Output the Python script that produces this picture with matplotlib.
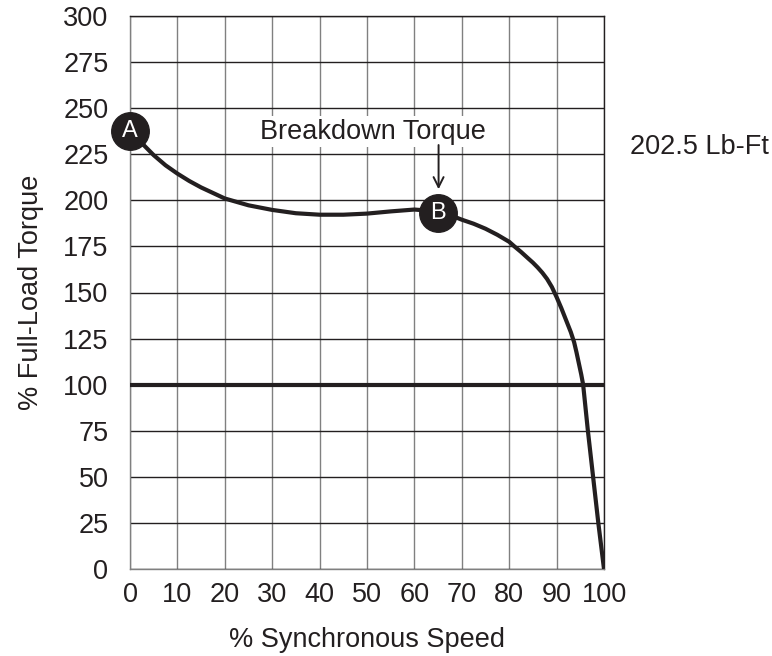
import matplotlib
matplotlib.use('Agg')
import matplotlib.pyplot as plt

plt.rcParams['font.family'] = ['Liberation Sans', 'DejaVu Sans']
FS = 19.5

# torque curve: % synchronous speed vs % full-load torque
speed = [0, 2.5, 5, 7.5, 10, 12.5, 15, 17.5, 20, 25, 30, 35, 40, 45, 50, 55, 60,
         62.5, 65, 67.5, 70, 72.5, 75, 77.5, 80, 81.1, 82.5, 84, 85, 86, 87, 88,
         89, 90, 91, 92, 93, 93.7, 94.2, 94.7, 95.2, 95.6, 96.6, 97.7, 98.8, 100]
torque = [237.5, 231, 224.5, 219, 214.5, 210.5, 207, 204, 201, 197.3, 194.8, 193,
          192.2, 192.2, 192.8, 194, 195, 194.5, 193, 192, 189.5, 187.3, 184.6,
          181.3, 177.5, 175, 172, 168.5, 166.2, 163.6, 160.7, 157.3, 153, 147.5,
          141.5, 135, 128.5, 123, 117.5, 111.5, 105.5, 100, 75, 50, 25, 0]
full_load = 100
point_a = (0, 237.5)
point_b = (65, 193)
xticks = list(range(0, 101, 10))
yticks = list(range(0, 301, 25))

fig = plt.figure(figsize=(7.72, 6.56), dpi=100)
ax = fig.add_axes([130/772, 87/656, 474/772, 553/656])
ax.set_xlim(0, 100)
ax.set_ylim(0, 300)
ax.set_xticks(xticks)
ax.set_yticks(yticks)
ax.tick_params(length=0, pad=9, labelsize=FS, colors='#231f20')
ax.tick_params(axis='y', pad=15.5)

ax.xaxis.grid(True, color='#808080', lw=1.0)
ax.yaxis.grid(True, color='#231f20', lw=1.0)
ax.set_axisbelow(True)
for side in ['left', 'bottom']:
    ax.spines[side].set_color('#808080')
for side in ['top', 'right']:
    ax.spines[side].set_color('#231f20')
for s in ax.spines.values():
    s.set_linewidth(1.0)

ax.axhline(full_load, color='#231f20', lw=3.0, zorder=3)
ax.plot(speed, torque, color='#231f20', lw=3.0, zorder=4, solid_capstyle='butt',
        solid_joinstyle='round')

for (px, py), lab in [(point_a, 'A'), (point_b, 'B')]:
    ax.plot(px, py, 'o', ms=27, color='#231f20', zorder=5, clip_on=False)
    ax.text(px, py, lab, color='white', ha='center', va='center',
            fontsize=17, zorder=6)

ax.text(51.2, 233.5, 'Breakdown Torque', ha='center', va='baseline', fontsize=FS,
        color='#231f20', zorder=3,
        bbox=dict(facecolor='white', edgecolor='none', pad=2))
ax.annotate('', xy=(65.1, 206), xytext=(65.1, 230),
            arrowprops=dict(arrowstyle='->', lw=1.4, color='#231f20',
                            mutation_scale=18, shrinkA=0, shrinkB=0), zorder=3)

fig.text(630/772, 1 - 154/656, '202.5 Lb-Ft', ha='left', va='baseline',
         fontsize=FS, color='#231f20')

ax.set_xlabel('% Synchronous Speed', fontsize=FS, labelpad=14, color='#231f20')
ax.set_ylabel('% Full-Load Torque', fontsize=FS, labelpad=14, color='#231f20')

fig.savefig('out.png', dpi=100)
